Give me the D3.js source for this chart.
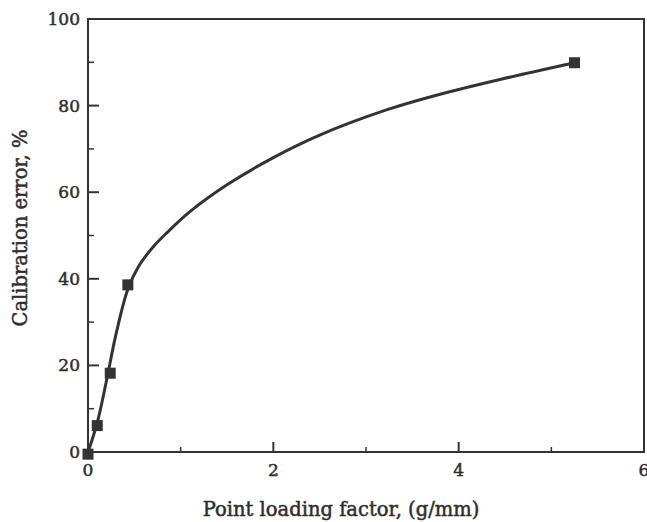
<!DOCTYPE html>
<html>
<head>
<meta charset="utf-8">
<script src="https://cdn.jsdelivr.net/npm/d3@7"></script>
<style>
  body { margin: 0; background: #fff; }
  .chart__text { font-family: "DejaVu Serif", serif; font-size: 17px; fill: #2e2e2e; stroke: #2e2e2e; stroke-width: 0.5px; }
  .chart__label { font-family: "DejaVu Serif", serif; font-size: 19.5px; fill: #2e2e2e; stroke: #2e2e2e; stroke-width: 0.5px; }
</style>
</head>
<body>
<div id="chart"></div>
<script>
// Measured points (point loading factor, calibration error)
const pointX = [0, 0.10, 0.24, 0.43, 5.25];
const pointY = [-0.5, 6.1, 18.2, 38.6, 89.9];

// Fitted curve
const curveX = [0, 0.10, 0.20, 0.30, 0.43, 0.55, 0.70, 0.85, 1.10, 1.50, 2.00, 2.50, 3.22, 3.76, 4.48, 5.25];
const curveY = [0, 6.8, 16.5, 27.0, 37.6, 43.0, 47.3, 50.6, 55.5, 61.7, 68.0, 73.2, 79.0, 82.4, 86.2, 89.9];

// Tick values
const xMajor = [0, 2, 4, 6];
const xMinor = [1, 3, 5];
const yMajor = [0, 20, 40, 60, 80, 100];
const yMinor = [10, 30, 50, 70, 90];

const w = 647, h = 522;
const margin = { top: 19, right: 3, bottom: 70, left: 88 };
const width = w - margin.left - margin.right;
const height = h - margin.top - margin.bottom;
const ink = "#333";

const svg = d3.select("#chart")
  .append("svg")
  .attr("width", w)
  .attr("height", h);

const g = svg.append("g")
  .attr("transform", "translate(" + margin.left + "," + margin.top + ")");

// Scales
const x = d3.scaleLinear().domain([0, 6]).range([0, width]);
const y = d3.scaleLinear().domain([0, 100]).range([height, 0]);

// Frame
g.append("rect")
  .attr("x", 0)
  .attr("y", 0)
  .attr("width", width)
  .attr("height", height)
  .attr("fill", "none")
  .attr("stroke", ink)
  .attr("stroke-width", 2);

// Inward ticks on bottom axis
g.selectAll(".tick-x-major")
  .data(xMajor.slice(1, -1))
  .enter().append("line")
  .attr("x1", d => x(d)).attr("x2", d => x(d))
  .attr("y1", height).attr("y2", height - 10)
  .attr("stroke", ink).attr("stroke-width", 2);

g.selectAll(".tick-x-minor")
  .data(xMinor)
  .enter().append("line")
  .attr("x1", d => x(d)).attr("x2", d => x(d))
  .attr("y1", height).attr("y2", height - 5)
  .attr("stroke", ink).attr("stroke-width", 1.5);

// Inward ticks on left axis
g.selectAll(".tick-y-major")
  .data(yMajor.slice(1, -1))
  .enter().append("line")
  .attr("x1", 0).attr("x2", 11)
  .attr("y1", d => y(d)).attr("y2", d => y(d))
  .attr("stroke", ink).attr("stroke-width", 2);

g.selectAll(".tick-y-minor")
  .data(yMinor)
  .enter().append("line")
  .attr("x1", 0).attr("x2", 6)
  .attr("y1", d => y(d)).attr("y2", d => y(d))
  .attr("stroke", ink).attr("stroke-width", 1.5);

// Tick labels
g.selectAll(".label-x")
  .data(xMajor)
  .enter().append("text")
  .attr("class", "chart__text")
  .attr("x", d => x(d))
  .attr("y", height + 24)
  .attr("text-anchor", "middle")
  .text(d => d);

g.selectAll(".label-y")
  .data(yMajor)
  .enter().append("text")
  .attr("class", "chart__text")
  .attr("x", -8)
  .attr("y", d => y(d) + 6)
  .attr("text-anchor", "end")
  .text(d => d);

// Curve
const line = d3.line()
  .x(d => x(d[0]))
  .y(d => y(d[1]))
  .curve(d3.curveCatmullRom.alpha(0.5));

g.append("path")
  .datum(curveX.map((d, i) => [d, curveY[i]]))
  .attr("d", line)
  .attr("fill", "none")
  .attr("stroke", ink)
  .attr("stroke-width", 3);

// Square markers
const s = 11;
g.selectAll(".chart__dot")
  .data(pointX.map((d, i) => [d, pointY[i]]))
  .enter().append("rect")
  .attr("x", d => x(d[0]) - s / 2)
  .attr("y", d => y(d[1]) - s / 2)
  .attr("width", s)
  .attr("height", s)
  .attr("fill", ink);

// Axis titles
svg.append("text")
  .attr("class", "chart__label")
  .attr("x", 341)
  .attr("y", 516)
  .attr("text-anchor", "middle")
  .text("Point loading factor, (g/mm)");

svg.append("text")
  .attr("class", "chart__label")
  .attr("transform", "translate(27,228) rotate(-90)")
  .attr("text-anchor", "middle")
  .text("Calibration error, %");
</script>
</body>
</html>
